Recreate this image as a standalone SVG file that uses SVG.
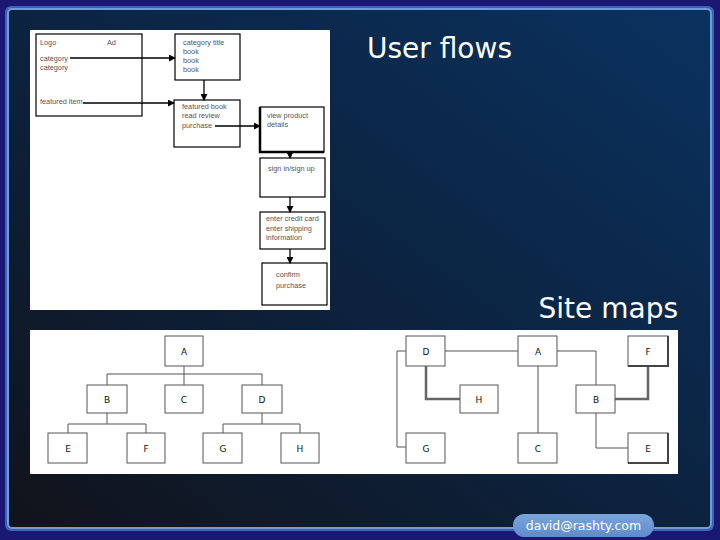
<svg xmlns="http://www.w3.org/2000/svg" width="720" height="540" viewBox="0 0 720 540">
<defs>
<linearGradient id="panel" x1="1" y1="0" x2="0" y2="1">
<stop offset="0" stop-color="#0a325f"/>
<stop offset="0.5" stop-color="#0c2340"/>
<stop offset="1" stop-color="#11131a"/>
</linearGradient>
<linearGradient id="pill" x1="0" y1="0" x2="0" y2="1">
<stop offset="0" stop-color="#7aa6dc"/>
<stop offset="1" stop-color="#5f8cca"/>
</linearGradient>
<marker id="ah" viewBox="0 0 8 8" refX="7" refY="4" markerWidth="7" markerHeight="7" orient="auto" markerUnits="userSpaceOnUse">
<path d="M0,0 L8,4 L0,8 z" fill="#000"/>
</marker>
<style>
.uf{font-family:"Liberation Sans",Arial,sans-serif;font-size:7.3px;fill:#555}
.ub{fill:#fff;stroke:#000;stroke-width:1.2}
.ua{stroke:#000;stroke-width:1.3;fill:none;marker-end:url(#ah)}
.sb{fill:#fff;stroke:#555;stroke-width:1}
.sl{stroke:#555;stroke-width:1;fill:none}
.sk{stroke:#666;stroke-width:2.5;fill:none}
.st{font-family:"DejaVu Sans",sans-serif;font-size:9px;fill:#111;text-anchor:middle}
.title{font-family:"DejaVu Sans",sans-serif;font-size:28px;fill:#fff}
</style>
</defs>
<rect x="0" y="0" width="720" height="540" fill="#1b1874"/>
<rect x="5" y="6" width="709" height="525" rx="6" fill="#3d63b4"/>
<rect x="7" y="8" width="705" height="521" rx="5" fill="#6e9cdb"/>
<rect x="9" y="10" width="701" height="517" rx="3" fill="url(#panel)"/>

<text class="title" x="367" y="58">User flows</text>
<text class="title" x="678" y="318" text-anchor="end">Site maps</text>

<g id="userflow">
<rect x="30" y="30" width="300" height="280" fill="#fff"/>
<g id="uf-home">
<rect class="ub" x="36" y="34" width="106" height="82"/>
<text class="uf" x="40" y="45">Logo</text>
<text class="uf" x="107" y="45">Ad</text>
<text class="uf" x="40" y="61">category</text>
<text class="uf" x="40" y="70">category</text>
<text class="uf" x="40" y="104">featured item</text>
</g>
<g id="uf-category">
<rect class="ub" x="175" y="34" width="65" height="46"/>
<text class="uf" x="183" y="45">category title</text>
<text class="uf" x="183" y="54">book</text>
<text class="uf" x="183" y="63">book</text>
<text class="uf" x="183" y="72">book</text>
</g>
<g id="uf-featured">
<rect class="ub" x="174" y="100" width="66" height="47"/>
<text class="uf" x="182" y="109">featured book</text>
<text class="uf" x="182" y="118">read review</text>
<text class="uf" x="182" y="128">purchase</text>
</g>
<g id="uf-product">
<rect class="ub" x="260" y="107" width="64" height="45"/>
<path d="M260,107 V152 H324" stroke="#000" stroke-width="2.5" fill="none"/>
<text class="uf" x="267" y="118">view product</text>
<text class="uf" x="267" y="127">details</text>
</g>
<g id="uf-sign">
<rect class="ub" x="260" y="158" width="65" height="39"/>
<text class="uf" x="268" y="171">sign in/sign up</text>
</g>
<g id="uf-card">
<rect class="ub" x="260" y="212" width="65" height="37"/>
<text class="uf" x="266" y="221">enter credit card</text>
<text class="uf" x="266" y="231">enter shipping</text>
<text class="uf" x="266" y="240">information</text>
</g>
<g id="uf-confirm">
<rect class="ub" x="262" y="263" width="65" height="42"/>
<text class="uf" x="276" y="277">confirm</text>
<text class="uf" x="276" y="288">purchase</text>
</g>
<g id="uf-connectors">
<path class="ua" d="M70,58 H175"/>
<path class="ua" d="M83,103 H174"/>
<path class="ua" d="M204,80 V100"/>
<path class="ua" d="M215,126 H260"/>
<path class="ua" d="M290,152 V158"/>
<path class="ua" d="M290,197 V212"/>
<path class="ua" d="M290,249 V263"/>
</g>
</g>

<g id="sitemaps">
<rect x="30" y="330" width="648" height="144" fill="#fff"/>
<g id="tree-connectors">
<path class="sl" d="M184,366 V385 M107,385 V374 H262 V385 M107,413 V424 M68,433 V424 H146 V433 M262,413 V424 M223,433 V424 H300 V433"/>
</g>
<g id="t-A"><rect class="sb" x="165" y="336" width="38" height="30"/><text class="st" x="184" y="355">A</text></g>
<g id="t-B"><rect class="sb" x="87" y="385" width="40" height="28"/><text class="st" x="107" y="403">B</text></g>
<g id="t-C"><rect class="sb" x="165" y="385" width="38" height="28"/><text class="st" x="184" y="403">C</text></g>
<g id="t-D"><rect class="sb" x="242" y="385" width="40" height="28"/><text class="st" x="262" y="403">D</text></g>
<g id="t-E"><rect class="sb" x="48" y="433" width="39" height="30"/><text class="st" x="68" y="452">E</text></g>
<g id="t-F"><rect class="sb" x="127" y="433" width="38" height="30"/><text class="st" x="146" y="452">F</text></g>
<g id="t-G"><rect class="sb" x="203" y="433" width="39" height="30"/><text class="st" x="223" y="452">G</text></g>
<g id="t-H"><rect class="sb" x="281" y="433" width="38" height="30"/><text class="st" x="300" y="452">H</text></g>

<g id="graph-connectors">
<path class="sl" d="M445,351 H518 M557,351 H596 V385 M538,366 V433 M406,351 H397 V447 H406 M596,413 V448 H628"/>
<path class="sk" d="M426,366 V399 H460 M615,399 H648 V366"/>
</g>
<g id="g-D"><rect class="sb" x="406" y="336" width="39" height="30"/><text class="st" x="426" y="355">D</text></g>
<g id="g-A"><rect class="sb" x="518" y="336" width="39" height="30"/><text class="st" x="538" y="355">A</text></g>
<g id="g-F"><rect class="sb" x="628" y="336" width="40" height="30"/><path d="M668,336 V366 H628" stroke="#444" stroke-width="2" fill="none"/><text class="st" x="648" y="355">F</text></g>
<g id="g-H"><rect class="sb" x="460" y="385" width="38" height="28"/><text class="st" x="479" y="403">H</text></g>
<g id="g-B"><rect class="sb" x="576" y="385" width="39" height="28"/><text class="st" x="596" y="403">B</text></g>
<g id="g-G"><rect class="sb" x="406" y="433" width="39" height="30"/><text class="st" x="426" y="452">G</text></g>
<g id="g-C"><rect class="sb" x="518" y="433" width="39" height="30"/><text class="st" x="538" y="452">C</text></g>
<g id="g-E"><rect class="sb" x="628" y="433" width="40" height="30"/><path d="M668,433 V463 H628" stroke="#444" stroke-width="2" fill="none"/><text class="st" x="648" y="452">E</text></g>
</g>

<g id="badge">
<rect x="513" y="514" width="141" height="23" rx="11.5" fill="url(#pill)"/>
<text x="583.5" y="530" font-family="'DejaVu Sans',sans-serif" font-size="12.5" fill="#fff" text-anchor="middle">david@rashty.com</text>
</g>
</svg>
